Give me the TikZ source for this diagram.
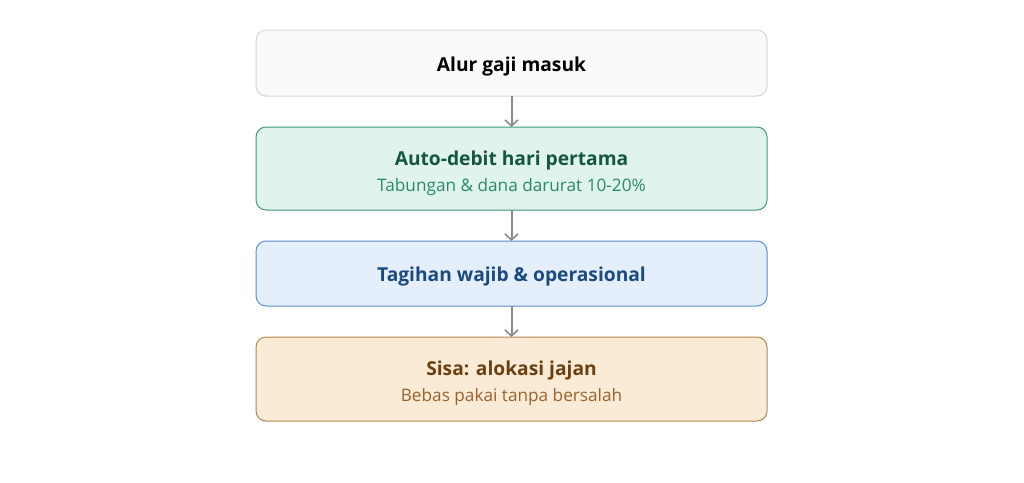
\documentclass[tikz,border=0pt]{standalone}
\usepackage{fontspec}
\setmainfont{Open Sans}
\usetikzlibrary{arrows.meta}
\definecolor{b1fill}{HTML}{FAFAF8}
\definecolor{b1draw}{HTML}{D6D6D6}
\definecolor{b2fill}{HTML}{E0F3EC}
\definecolor{b2draw}{HTML}{3F9A76}
\definecolor{b2title}{HTML}{12573E}
\definecolor{b2sub}{HTML}{2A8A66}
\definecolor{b3fill}{HTML}{E4EFFB}
\definecolor{b3draw}{HTML}{5A8FD0}
\definecolor{b3title}{HTML}{1B4A82}
\definecolor{b4fill}{HTML}{FAEBD7}
\definecolor{b4draw}{HTML}{B08850}
\definecolor{b4title}{HTML}{6B3F10}
\definecolor{b4sub}{HTML}{9A632A}
\definecolor{arr}{HTML}{8A8A8A}
\tikzset{
  stepbox/.style={rounded corners=10pt, line width=1pt},
  ttl/.style={font=\fontsize{19.2}{22}\selectfont\bfseries},
  sub/.style={font=\fontsize{17.2}{20}\selectfont},
  flow/.style={draw=arr, line width=2pt, -{Straight Barb[length=6pt,width=13pt,line width=1.6pt]}}
}
\begin{document}
\begin{tikzpicture}[x=1pt,y=-1pt]
\useasboundingbox (0,0) rectangle (1024,482);
\draw[stepbox, fill=b1fill, draw=b1draw] (256,30) rectangle (767,96);
\node[ttl, text=black] (t1) at (511.5,66.5) {Alur gaji masuk};
\coordinate (b1s) at (511.5,96);
\draw[stepbox, fill=b2fill, draw=b2draw] (256,127) rectangle (767,210);
\coordinate (b2n) at (511.5,127);
\coordinate (b2s) at (511.5,210);
\node[ttl, text=b2title] (t2) at (511.5,160.5) {Auto-debit hari pertama};
\node[sub, text=b2sub] (s2) at (511.5,187) {Tabungan \& dana darurat 10-20\%};
\draw[stepbox, fill=b3fill, draw=b3draw] (256,241) rectangle (767,306);
\coordinate (b3n) at (511.5,241);
\coordinate (b3s) at (511.5,306);
\node[ttl, text=b3title] (t3) at (511.5,276.5) {Tagihan wajib \& operasional};
\draw[stepbox, fill=b4fill, draw=b4draw] (256,337) rectangle (767,421);
\coordinate (b4n) at (511.5,337);
\node[ttl, text=b4title] (t4) at (511.5,370.5) {Sisa: alokasi jajan};
\node[sub, text=b4sub] (s4) at (511.5,397) {Bebas pakai tanpa bersalah};
\draw[flow] (b1s) -- (b2n);
\draw[flow] (b2s) -- (b3n);
\draw[flow] (b3s) -- (b4n);
\end{tikzpicture}
\end{document}
